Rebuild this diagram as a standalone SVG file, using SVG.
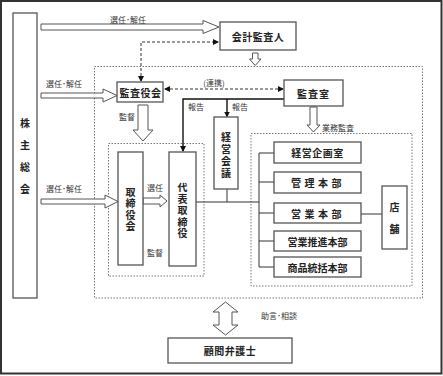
<svg xmlns="http://www.w3.org/2000/svg" width="443" height="376" viewBox="0 0 443 376">
<style>
.box{fill:#fff;stroke:#555;stroke-width:1.3}
.dot{fill:none;stroke:#777;stroke-width:1;stroke-dasharray:1.5 1.5}
.barrow{fill:#fff;stroke:#555;stroke-width:1}
.t{font-family:"Noto Sans CJK JP","Noto Sans",sans-serif;font-size:10px;font-weight:bold;fill:#222;text-anchor:middle;dominant-baseline:central}
.v{font-family:"Noto Sans CJK JP","Noto Sans",sans-serif;font-size:10px;font-weight:bold;fill:#222;text-anchor:middle;writing-mode:vertical-rl}
.s{font-family:"Noto Sans CJK JP","Noto Sans",sans-serif;font-size:8px;fill:#333;text-anchor:middle;dominant-baseline:central}
.ln{fill:none;stroke:#111;stroke-width:1.4}
.thin{fill:none;stroke:#333;stroke-width:1}
.dash{fill:none;stroke:#333;stroke-width:1;stroke-dasharray:3 2}
</style>
<defs>
<marker id="ah" markerWidth="6" markerHeight="6" refX="5" refY="3" orient="auto-start-reverse" markerUnits="userSpaceOnUse">
<path d="M0,0 L6,3 L0,6 Z" fill="#111"/>
</marker>
</defs>
<rect width="443" height="376" fill="#fff"/>
<rect x="1" y="1" width="440.5" height="372.5" fill="none" stroke="#333" stroke-width="2"/>

<!-- dotted groups -->
<rect class="dot" x="94.5" y="66.5" width="328" height="231.5"/>
<rect class="dot" x="108.5" y="143.5" width="95.5" height="132.5"/>
<rect class="dot" x="251" y="133.5" width="161" height="152.5"/>

<g id="connectors">
<polygon class="barrow" points="41,24 203,24 203,20.5 219,27 203,33.5 203,30 41,30"/>
<polygon class="barrow" points="41,93 103,93 103,89 117,95.5 103,102 103,98 41,98"/>
<polygon class="barrow" points="41,199 105,199 105,195 118,201.5 105,208 105,204 41,204"/>
<polygon class="barrow" points="143,198 160,198 160,195 167,201 160,207 160,204 143,204"/>
<polygon class="barrow" points="138,105 148,105 148,130 153,130 143,141 133,130 138,130"/>
<polygon class="barrow" points="252.5,53 258,53 258,59 261,59 255.2,65.5 249.5,59 252.5,59"/>
<polygon class="barrow" points="310,107 317,107 317,125 320,125 313.5,132 307,125 310,125"/>
<polygon class="barrow" points="225.5,302 238,312 232,312 232,325 238,325 225.5,335 213,325 219,325 219,312 213,312"/>
<path class="dash" d="M141,81 V42 H218" marker-start="url(#ah)" marker-end="url(#ah)"/>
<path class="dash" d="M165,89 H283" marker-start="url(#ah)" marker-end="url(#ah)"/>
<path class="ln" d="M284,99 H183 V151" marker-end="url(#ah)"/>
<path class="ln" d="M227,99 V116.5" marker-end="url(#ah)"/>
<path class="thin" d="M196,202 H259 M227,189 V202 M259,153 V267 M259,153 H274 M259,182 H274 M259,213 H274 M259,241 H274 M259,267 H274 M361,214 H382"/>
<text class="s" x="128" y="19">選任･解任</text>
<text class="s" x="64" y="83">選任･解任</text>
<text class="s" x="64" y="188">選任･解任</text>
<text class="s" x="127" y="116">監督</text>
<text class="s" x="155" y="187">選任</text>
<text class="s" x="155" y="252">監督</text>
<text class="s" x="214" y="82">(連携)</text>
<text class="s" x="196" y="106">報告</text>
<text class="s" x="240" y="106">報告</text>
<text class="s" x="338" y="127">業務監査</text>
<text class="s" x="279" y="315">助言･相談</text>
</g>

<g id="kabunushi">
<rect class="box" x="13" y="13" width="24" height="285"/>
<text class="v" x="25" y="162" letter-spacing="12">株主総会</text>
</g>
<g id="kaikei">
<rect class="box" x="220" y="22" width="76" height="28"/>
<text class="t" x="258" y="36.5" letter-spacing="0.5">会計監査人</text>
</g>
<g id="kansayakukai">
<rect class="box" x="117" y="82" width="46" height="20"/>
<text class="t" x="140.5" y="92" letter-spacing="0.5">監査役会</text>
</g>
<g id="kansashitsu">
<rect class="box" x="284" y="80" width="59" height="26"/>
<text class="t" x="313.5" y="93" letter-spacing="1">監査室</text>
</g>
<g id="torishimariyakukai">
<rect class="box" x="118" y="152" width="25" height="113"/>
<text class="v" x="130.5" y="210" letter-spacing="1.5">取締役会</text>
</g>
<g id="daihyo">
<rect class="box" x="169" y="152" width="27" height="114"/>
<text class="v" x="182.5" y="211" letter-spacing="1.5">代表取締役</text>
</g>
<g id="keieikaigi">
<rect class="box" x="214" y="117" width="24" height="72"/>
<text class="v" x="226" y="156" letter-spacing="2">経営会議</text>
</g>
<g id="keieikikaku">
<rect class="box" x="274" y="142" width="87" height="21"/>
<text class="t" x="317.5" y="152.5" letter-spacing="0.5">経営企画室</text>
</g>
<g id="kanri">
<rect class="box" x="274" y="172" width="87" height="21"/>
<text class="t" x="318" y="182.5" letter-spacing="3.5">管理本部</text>
</g>
<g id="eigyo">
<rect class="box" x="274" y="203" width="87" height="20"/>
<text class="t" x="318" y="213" letter-spacing="3.5">営業本部</text>
</g>
<g id="eigyosuishin">
<rect class="box" x="274" y="231" width="87" height="20"/>
<text class="t" x="317.5" y="241">営業推進本部</text>
</g>
<g id="shohin">
<rect class="box" x="274" y="257" width="87" height="20"/>
<text class="t" x="317.5" y="267">商品統括本部</text>
</g>
<g id="tenpo">
<rect class="box" x="382" y="186" width="25" height="63"/>
<text class="v" x="394.5" y="224" letter-spacing="12">店舗</text>
</g>
<g id="komon">
<rect class="box" x="168" y="338" width="124" height="25"/>
<text class="t" x="230" y="350.5" letter-spacing="0.5">顧問弁護士</text>
</g>
</svg>
